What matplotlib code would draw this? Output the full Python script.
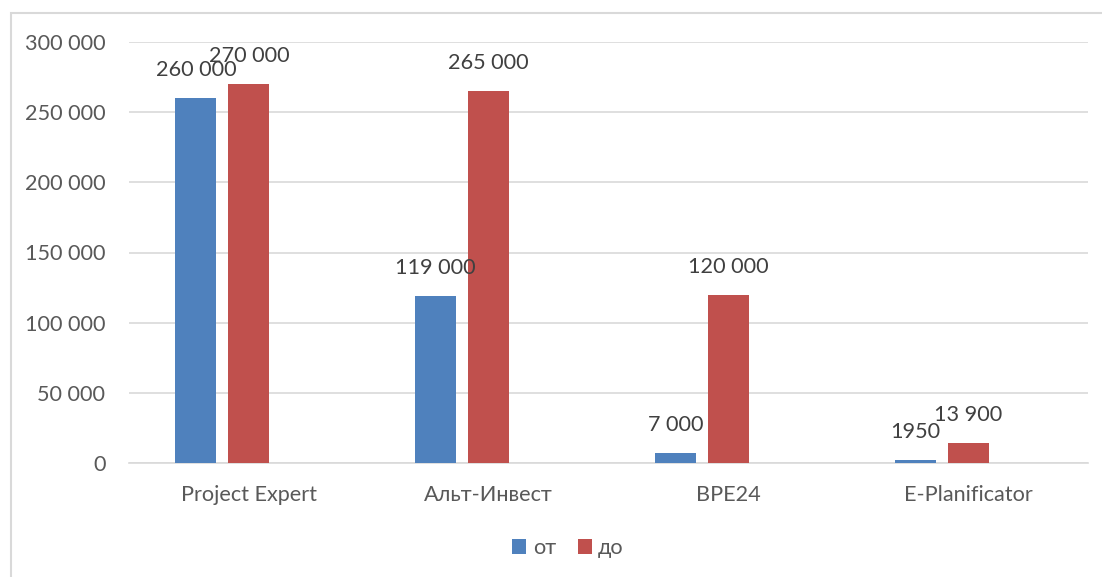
import matplotlib
matplotlib.use("Agg")
import matplotlib.pyplot as plt
import numpy as np
from matplotlib.patches import Rectangle

# Data
categories = ["Project Expert", "Альт-Инвест", "BPE24", "E-Planificator"]
series_names = ["от", "до"]
values_from = [260000, 119000, 7000, 1950]
values_to = [270000, 265000, 120000, 13900]
labels_from = ["260 000", "119 000", "7 000", "1950"]
labels_to = ["270 000", "265 000", "120 000", "13 900"]
y_ticks = [0, 50000, 100000, 150000, 200000, 250000, 300000]

BLUE = "#4F81BD"
RED = "#C0504D"
TEXT = "#595959"
GRID = "#D9D9D9"

plt.rcParams["font.family"] = ["Lato", "DejaVu Sans"]

W, H = 1102, 577
fig = plt.figure(figsize=(W / 100, H / 100), dpi=100)
ax = fig.add_axes([129 / W, 114 / H, (1088 - 129) / W, (463 - 42) / H])

x = np.arange(len(categories))
bar_w = 0.171
step = 0.221

b1 = ax.bar(x - step, values_from, width=bar_w, color=BLUE, label=series_names[0], zorder=3)
b2 = ax.bar(x, values_to, width=bar_w, color=RED, label=series_names[1], zorder=3)

fs = 15.6
for bars, labs in ((b1, labels_from), (b2, labels_to)):
    for rect, lab in zip(bars, labs):
        ax.annotate(lab, xy=(rect.get_x() + rect.get_width() / 2, rect.get_height()),
                    xytext=(0, 13), textcoords="offset points",
                    ha="center", va="bottom", fontsize=fs, color="#404040")

ax.set_xlim(-0.5, len(categories) - 0.5)
ax.set_ylim(0, 300000)
ax.set_yticks(y_ticks)
ax.set_yticklabels([f"{v:,}".replace(",", " ") for v in y_ticks])
ax.set_xticks(x)
ax.set_xticklabels(categories)
ax.tick_params(axis="both", length=0, labelsize=fs, colors=TEXT)
ax.tick_params(axis="y", pad=17)
ax.tick_params(axis="x", pad=16)

ax.grid(axis="y", color=GRID, linewidth=1.2, zorder=0)
for s in ("top", "right", "left"):
    ax.spines[s].set_visible(False)
ax.spines["bottom"].set_color(GRID)
ax.spines["bottom"].set_linewidth(1.2)

leg = fig.legend(handles=[b1, b2], labels=series_names, loc="center",
                 bbox_to_anchor=(568 / W, 1 - 548 / H), ncol=2, frameon=False,
                 fontsize=fs, handlelength=0.65, handleheight=0.65,
                 handletextpad=0.3, columnspacing=1.0)
for t in leg.get_texts():
    t.set_color(TEXT)

# outer chart border (cropped on right and bottom)
fig.patches.append(Rectangle((10.5 / W, -0.1), 2, (H - 12.5) / H + 0.1,
                             transform=fig.transFigure, fill=False,
                             edgecolor=GRID, linewidth=1.5))

fig.savefig("out.png", dpi=100, facecolor="white")
